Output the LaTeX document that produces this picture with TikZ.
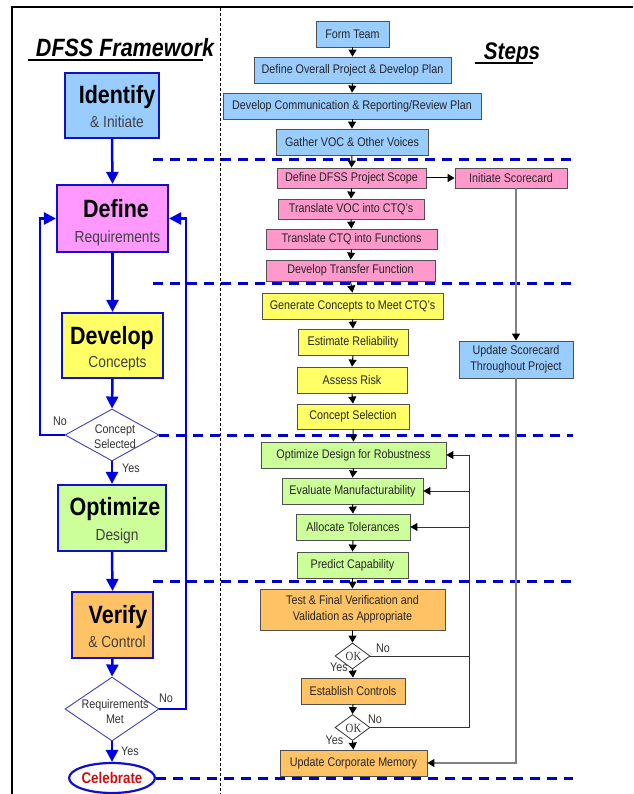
\documentclass[tikz,border=0pt]{standalone}
\usepackage{fontspec}
\setmainfont{Liberation Sans}[FakeStretch=0.86]
\newfontfamily\okfont{Liberation Serif}[FakeStretch=0.86]
\usetikzlibrary{arrows.meta,shapes.geometric,calc}
\definecolor{cblue}{HTML}{99CCFF}
\definecolor{cmag}{HTML}{FF99FF}
\definecolor{cpink}{HTML}{FF99CC}
\definecolor{cyel}{HTML}{FFFF66}
\definecolor{cgreen}{HTML}{CCFF99}
\definecolor{corange}{HTML}{FFC366}
\definecolor{frameblue}{HTML}{1010C8}
\definecolor{arrblue}{HTML}{0000E6}
\definecolor{dashblue}{HTML}{0000C8}
\definecolor{diamblue}{HTML}{4040C0}
\definecolor{boxgray}{HTML}{505050}
\definecolor{celebred}{HTML}{D01010}
\tikzset{
 bigbox/.style={draw=frameblue, line width=2.2pt, inner sep=0pt},
 stepbox/.style={draw=boxgray, line width=0.8pt, inner sep=0pt, align=center, text=black!85, font=\fontsize{12.5}{15.5}\selectfont},
 ldiam/.style={diamond, draw=diamblue, line width=0.9pt, fill=white, inner sep=0pt},
 okdiam/.style={diamond, draw=black!80, line width=0.8pt, fill=white, inner sep=0pt},
 larr/.style={draw=arrblue, line width=2.5pt, -{Triangle[width=12pt,length=12pt]}},
 sarr/.style={draw=black, line width=1pt, -{Triangle[width=8pt,length=7pt]}},
 garr/.style={draw=black!50, line width=1.1pt, -{Triangle[width=8pt,length=7pt,color=black]}},
 gline/.style={draw=black!50, line width=1.1pt},
 fline/.style={draw=black!80, line width=0.9pt},
 farr/.style={draw=black!80, line width=0.9pt, -{Triangle[width=8pt,length=7pt,color=black]}},
 sepline/.style={draw=dashblue, line width=3pt, dash pattern=on 10pt off 7pt},
 bigtitle/.style={font=\fontsize{25}{25}\selectfont\bfseries, anchor=base, inner sep=0pt},
 subtitle/.style={font=\fontsize{16}{16}\selectfont, text=black!75, anchor=base, inner sep=0pt},
 lbl/.style={font=\fontsize{12.5}{15}\selectfont, text=black!80, inner sep=0pt, align=center},
 headtitle/.style={font=\fontsize{25}{25}\selectfont\bfseries\itshape, anchor=base, inner sep=0pt},
}
\begin{document}
\begin{tikzpicture}[x=1pt,y=-1pt]
\useasboundingbox (0,0) rectangle (633,794);
\fill[white] (0,0) rectangle (633,794);
% frame and divider
\draw[black, line width=1.2pt] (12,794) -- (12,7) -- (633,7);
\draw[black, line width=1pt, dash pattern=on 3pt off 2pt] (220,8) -- (220,794);
% titles
\node[headtitle] (t1) at (125,57) {DFSS Framework};
\draw[black, line width=2pt] (28,60.5) -- (203,60.5);
\node[headtitle, font=\fontsize{24}{24}\selectfont\bfseries\itshape] (t2) at (512,60) {Steps};
\draw[black, line width=2pt] (475,63.5) -- (533,63.5);
% separators
\draw[sepline] (153,160) -- (573,160);
\draw[sepline] (153,283) -- (573,283);
\draw[sepline] (153,581) -- (573,581);

% left column boxes
\node[bigbox, fill=cblue, minimum width=94pt, minimum height=65pt] (ident) at (112,105.5) {};
\node[bigtitle] at (117,104) {Identify};
\node[subtitle] at (117,128) {\& Initiate};
\node[bigbox, fill=cmag, minimum width=111pt, minimum height=67pt] (define) at (112.5,218.5) {};
\node[bigtitle] at (116,218) {Define};
\node[subtitle] at (117.5,242) {Requirements};
\node[bigbox, fill=cyel, minimum width=101pt, minimum height=65pt] (develop) at (112.5,345.5) {};
\node[bigtitle] at (112,344) {Develop};
\node[subtitle] at (117.5,367) {Concepts};
\node[ldiam, minimum width=94pt, minimum height=52pt] (cdiam) at (112,435) {};
\node[lbl] at (115,437) {Concept\\Selected};
\node[bigbox, fill=cgreen, minimum width=108pt, minimum height=66pt] (optimize) at (112,518) {};
\node[bigtitle] at (115,515) {Optimize};
\node[subtitle] at (117,540) {Design};
\node[bigbox, fill=corange, minimum width=81pt, minimum height=66pt] (verify) at (112.5,625) {};
\node[bigtitle] at (118,623) {Verify};
\node[subtitle] at (117,647) {\& Control};
\node[ldiam, minimum width=94pt, minimum height=64pt] (rdiam) at (112,709) {};
\node[lbl] at (115,712) {Requirements\\Met};
\node[ellipse, draw=frameblue, line width=2.2pt, fill=white, minimum width=84pt, minimum height=30pt, inner sep=0pt, font=\fontsize{15.5}{15.5}\selectfont\bfseries, text=celebred] (celeb) at (112,778) {Celebrate};

\draw[sepline] (cdiam.east) -- (573,435);
\draw[sepline] (celeb.east) -- (573,778);

% left arrows
\draw[larr] (ident.south) -- (define.north);
\draw[larr] (define.south) -- (develop.north);
\draw[larr] (develop.south) -- (cdiam.north);
\draw[larr] (cdiam.south) -- (optimize.north);
\draw[larr] (optimize.south) -- (verify.north);
\draw[larr] (verify.south) -- (rdiam.north);
\draw[larr] (rdiam.south) -- (celeb.north);
\draw[larr] (cdiam.west) -- (40,435) |- (define.west);
\draw[larr] (rdiam.east) -- (186,709) |- (define.east);
\node[lbl] at (60,421) {No};
\node[lbl] at (131,468) {Yes};
\node[lbl] at (166,698) {No};
\node[lbl] at (130,751) {Yes};

% right column boxes
\node[stepbox, fill=cblue, minimum width=73pt, minimum height=26pt] (form) at (352.5,34) {Form Team};
\node[stepbox, fill=cblue, minimum width=197pt, minimum height=26pt] (overall) at (352.5,70) {Define Overall Project \& Develop Plan};
\node[stepbox, fill=cblue, minimum width=258pt, minimum height=26pt] (comm) at (352,106) {Develop Communication \& Reporting/Review Plan};
\node[stepbox, fill=cblue, minimum width=152pt, minimum height=26pt] (gather) at (352,142) {Gather VOC \& Other Voices};
\node[stepbox, fill=cpink, minimum width=149pt, minimum height=20pt] (scope) at (351.5,178) {Define DFSS Project Scope};
\node[stepbox, fill=cpink, minimum width=112pt, minimum height=20pt] (initsc) at (511,178) {Initiate Scorecard};
\node[stepbox, fill=cpink, minimum width=146pt, minimum height=20pt] (tvoc) at (351,209) {Translate VOC into CTQ's};
\node[stepbox, fill=cpink, minimum width=171pt, minimum height=20pt] (tctq) at (351.5,239) {Translate CTQ into Functions};
\node[stepbox, fill=cpink, minimum width=169pt, minimum height=21pt] (dtf) at (350.5,270.5) {Develop Transfer Function};
\node[stepbox, fill=cyel, minimum width=181pt, minimum height=26pt] (gen) at (352.5,306) {Generate Concepts to Meet CTQ's};
\node[stepbox, fill=cyel, minimum width=110pt, minimum height=26pt] (est) at (353,342) {Estimate Reliability};
\node[stepbox, fill=cyel, minimum width=110pt, minimum height=26pt] (risk) at (352,380) {Assess Risk};
\node[stepbox, fill=cyel, minimum width=112pt, minimum height=25pt] (csel) at (353,416.5) {Concept Selection};
\node[stepbox, fill=cblue, minimum width=114pt, minimum height=37pt] (upsc) at (516,359.5) {Update Scorecard\\Throughout Project};
\node[stepbox, fill=cgreen, minimum width=185pt, minimum height=26pt] (opt) at (353.5,455) {Optimize Design for Robustness};
\node[stepbox, fill=cgreen, minimum width=141pt, minimum height=26pt] (eval) at (352.5,491) {Evaluate Manufacturability};
\node[stepbox, fill=cgreen, minimum width=114pt, minimum height=26pt] (alloc) at (353,527) {Allocate Tolerances};
\node[stepbox, fill=cgreen, minimum width=111pt, minimum height=26pt] (pred) at (352.5,565) {Predict Capability};
\node[stepbox, fill=corange, minimum width=185pt, minimum height=41pt] (test) at (352.5,609.5) {Test \& Final Verification and\\Validation as Appropriate};
\node[okdiam, minimum width=35pt, minimum height=26pt] (ok1) at (352.5,656) {};
\node[font=\okfont\fontsize{12.5}{12.5}\selectfont, text=black!80, inner sep=0pt] at (353.5,656.5) {OK};
\node[stepbox, fill=corange, minimum width=104pt, minimum height=26pt] (estc) at (353,691) {Establish Controls};
\node[okdiam, minimum width=35pt, minimum height=26pt] (ok2) at (352.5,727.5) {};
\node[font=\okfont\fontsize{12.5}{12.5}\selectfont, text=black!80, inner sep=0pt] at (353.5,728) {OK};
\node[stepbox, fill=corange, minimum width=147pt, minimum height=26pt] (ucm) at (353.5,763) {Update Corporate Memory};

% right arrows
\draw[sarr] (form.south) -- (overall.north);
\draw[sarr] (overall.south) -- (comm.north);
\draw[sarr] (comm.south) -- (gather.north);
\draw[sarr] (gather.south) -- (scope.north);
\draw[sarr] (scope.east) -- (initsc.west);
\draw[sarr] (scope.south) -- (tvoc.north);
\draw[sarr] (tvoc.south) -- (tctq.north);
\draw[sarr] (tctq.south) -- (dtf.north);
\draw[sarr] (dtf.south) -- (gen.north);
\draw[sarr] (gen.south) -- (est.north);
\draw[sarr] (est.south) -- (risk.north);
\draw[sarr] (risk.south) -- (csel.north);
\draw[sarr] (csel.south) -- (opt.north);
\draw[sarr] (opt.south) -- (eval.north);
\draw[sarr] (eval.south) -- (alloc.north);
\draw[sarr] (alloc.south) -- (pred.north);
\draw[sarr] (pred.south) -- (test.north);
\draw[sarr] (test.south) -- (ok1.north);
\draw[sarr] (ok1.south) -- (estc.north);
\draw[sarr] (estc.south) -- (ok2.north);
\draw[sarr] (ok2.south) -- (ucm.north);

% scorecard path
\draw[garr] (upsc.north |- initsc.south) -- (upsc.north);
\draw[garr] (upsc.south) |- (ucm.east);

% feedback loops
\coordinate (fb) at (469,656);
\draw[fline] (ok1.east) -- (fb);
\draw[fline] (ok2.east) -| (fb);
\draw[farr] (fb) |- (opt.east);
\draw[farr] (fb |- eval.east) -- (eval.east);
\draw[farr] (fb |- alloc.east) -- (alloc.east);

\node[lbl] at (383,648) {No};
\node[lbl] at (339,667) {Yes};
\node[lbl] at (375,719) {No};
\node[lbl] at (334.5,740) {Yes};
\end{tikzpicture}
\end{document}
